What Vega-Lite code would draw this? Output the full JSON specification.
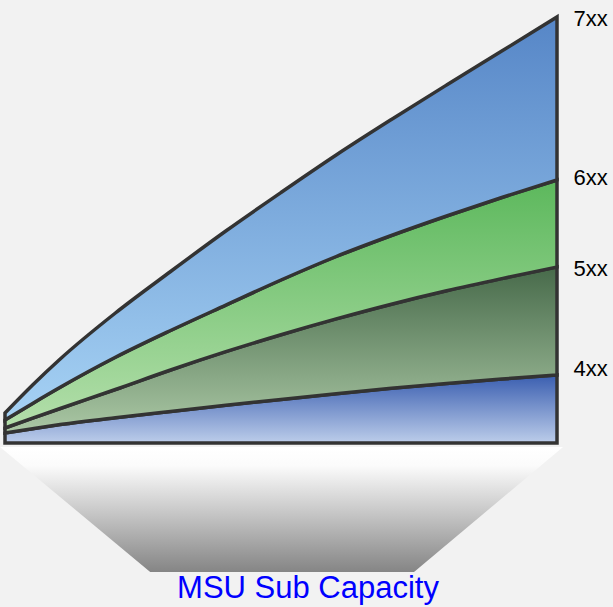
{
  "$schema": "https://vega.github.io/schema/vega-lite/v6.json",
  "width": 552,
  "height": 555,
  "autosize": {"type": "none"},
  "padding": {"left": 5, "top": 17, "right": 56, "bottom": 35},
  "background": "#f2f2f2",
  "config": {
    "view": {"stroke": null},
    "font": "Liberation Sans",
    "axisX": {"labels": false, "ticks": false, "domain": false, "grid": false,
      "titleFontSize": 31, "titleFontWeight": "normal", "titleColor": "#0000ff", "titleFont": "Liberation Sans",
      "titleBaseline": "alphabetic", "titleY": 25, "titleX": 302.5, "titleAnchor": "middle", "titleAlign": "center"},
    "axisY": {"ticks": false, "domain": false, "grid": false, "labelFontSize": 22, "labelColor": "#000000",
      "labelPadding": 16, "labelOverlap": false, "labelBound": false, "labelFlush": false, "labelFont": "Liberation Sans"}
  },
  "datasets": {
    "bands": [
      {"t": 0, "b3": 10, "b2": 15, "b1": 23, "top": 30},
      {"t": 5, "b3": 14.3, "b2": 24.8, "b1": 39.6, "top": 58},
      {"t": 10, "b3": 18.4, "b2": 34.5, "b1": 55.7, "top": 84},
      {"t": 20, "b3": 25.3, "b2": 53.5, "b1": 85.7, "top": 130},
      {"t": 30, "b3": 31.6, "b2": 73, "b1": 112.5, "top": 171.5},
      {"t": 40, "b3": 37.7, "b2": 91.3, "b1": 137.9, "top": 212},
      {"t": 50, "b3": 43.6, "b2": 108.3, "b1": 163, "top": 250.5},
      {"t": 60, "b3": 49.3, "b2": 124.1, "b1": 186.5, "top": 288},
      {"t": 70, "b3": 54.7, "b2": 138.8, "b1": 207.5, "top": 323.5},
      {"t": 80, "b3": 59.6, "b2": 152.2, "b1": 227, "top": 358},
      {"t": 90, "b3": 64, "b2": 164.4, "b1": 245.5, "top": 392},
      {"t": 100, "b3": 68, "b2": 176, "b1": 263, "top": 426}
    ],
    "funnel": [
      {"fy": -4, "fx1": -0.9, "fx2": 101.1},
      {"fy": -129, "fx1": 26.3, "fx2": 74.1}
    ]
  },
  "layer": [
    {
      "data": {"name": "funnel"},
      "mark": {
        "type": "area",
        "orient": "horizontal",
        "fill": {"gradient": "linear", "x1": 0, "y1": 0, "x2": 0, "y2": 1,
          "stops": [{"offset": 0, "color": "#ffffff"}, {"offset": 0.15, "color": "#fbfbfb"}, {"offset": 1, "color": "#858585"}]},
        "stroke": null
      },
      "encoding": {
        "y": {"field": "fy", "type": "quantitative", "scale": {"domain": [-129, 426], "nice": false, "zero": false},
          "axis": {"orient": "right", "values": [425, 266, 175, 75], "labelExpr": "datum.value == 425 ? '7xx' : datum.value == 266 ? '6xx' : datum.value == 175 ? '5xx' : '4xx'", "title": null}},
        "x": {"field": "fx1", "type": "quantitative", "scale": {"domain": [0, 100], "nice": false, "zero": false},
          "axis": {"title": "MSU Sub Capacity"}},
        "x2": {"field": "fx2"}
      }
    },
    {
      "data": {"name": "bands"},
      "mark": {"type": "area", "interpolate": "monotone", "stroke": "#333333", "strokeWidth": 3.5, "strokeJoin": "miter",
        "fill": {"gradient": "linear", "x1": 0, "y1": 0, "x2": 0, "y2": 1,
          "stops": [{"offset": 0, "color": "#3a5eb0"}, {"offset": 1, "color": "#bccdea"}]}},
      "encoding": {
        "x": {"field": "t", "type": "quantitative", "scale": {"domain": [0, 100], "nice": false, "zero": false}, "axis": {"title": "MSU Sub Capacity"}},
        "y": {"field": "b3", "type": "quantitative", "scale": {"domain": [-129, 426], "nice": false, "zero": false},
          "axis": {"orient": "right", "values": [425, 266, 175, 75], "labelExpr": "datum.value == 425 ? '7xx' : datum.value == 266 ? '6xx' : datum.value == 175 ? '5xx' : '4xx'", "title": null}},
        "y2": {"datum": 0}
      }
    },
    {
      "data": {"name": "bands"},
      "mark": {"type": "area", "interpolate": "monotone", "stroke": "#333333", "strokeWidth": 3.5, "strokeJoin": "miter",
        "fill": {"gradient": "linear", "x1": 0, "y1": 0, "x2": 0, "y2": 1,
          "stops": [{"offset": 0, "color": "#476a4a"}, {"offset": 1, "color": "#abc8a5"}]}},
      "encoding": {
        "x": {"field": "t", "type": "quantitative", "scale": {"domain": [0, 100], "nice": false, "zero": false}, "axis": {"title": "MSU Sub Capacity"}},
        "y": {"field": "b2", "type": "quantitative", "scale": {"domain": [-129, 426], "nice": false, "zero": false},
          "axis": {"orient": "right", "values": [425, 266, 175, 75], "labelExpr": "datum.value == 425 ? '7xx' : datum.value == 266 ? '6xx' : datum.value == 175 ? '5xx' : '4xx'", "title": null}},
        "y2": {"field": "b3"}
      }
    },
    {
      "data": {"name": "bands"},
      "mark": {"type": "area", "interpolate": "monotone", "stroke": "#333333", "strokeWidth": 3.5, "strokeJoin": "miter",
        "fill": {"gradient": "linear", "x1": 0, "y1": 0, "x2": 0, "y2": 1,
          "stops": [{"offset": 0, "color": "#5cb85c"}, {"offset": 1, "color": "#b4dfab"}]}},
      "encoding": {
        "x": {"field": "t", "type": "quantitative", "scale": {"domain": [0, 100], "nice": false, "zero": false}, "axis": {"title": "MSU Sub Capacity"}},
        "y": {"field": "b1", "type": "quantitative", "scale": {"domain": [-129, 426], "nice": false, "zero": false},
          "axis": {"orient": "right", "values": [425, 266, 175, 75], "labelExpr": "datum.value == 425 ? '7xx' : datum.value == 266 ? '6xx' : datum.value == 175 ? '5xx' : '4xx'", "title": null}},
        "y2": {"field": "b2"}
      }
    },
    {
      "data": {"name": "bands"},
      "mark": {"type": "area", "interpolate": "monotone", "stroke": "#333333", "strokeWidth": 3.5, "strokeJoin": "miter",
        "fill": {"gradient": "linear", "x1": 0, "y1": 0, "x2": 0, "y2": 1,
          "stops": [{"offset": 0, "color": "#5686c7"}, {"offset": 1, "color": "#a6d2f4"}]}},
      "encoding": {
        "x": {"field": "t", "type": "quantitative", "scale": {"domain": [0, 100], "nice": false, "zero": false}, "axis": {"title": "MSU Sub Capacity"}},
        "y": {"field": "top", "type": "quantitative", "scale": {"domain": [-129, 426], "nice": false, "zero": false},
          "axis": {"orient": "right", "values": [425, 266, 175, 75], "labelExpr": "datum.value == 425 ? '7xx' : datum.value == 266 ? '6xx' : datum.value == 175 ? '5xx' : '4xx'", "title": null}},
        "y2": {"field": "b1"}
      }
    }
  ]
}
